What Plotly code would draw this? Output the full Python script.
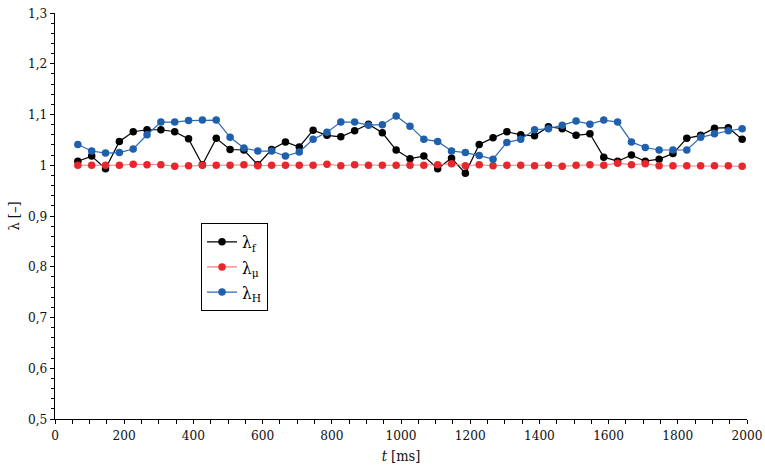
import plotly.graph_objects as go

# Time stamps of the samples [ms]
t_ms = [66 + 40 * k for k in range(49)]

# Relative coefficients lambda_f, lambda_mu, lambda_H
lambda_f = [1.008, 1.018, 0.993, 1.047, 1.066, 1.070, 1.070, 1.066, 1.052, 1.001,
            1.053, 1.031, 1.030, 1.001, 1.031, 1.046, 1.036, 1.069, 1.059, 1.056,
            1.068, 1.081, 1.064, 1.030, 1.013, 1.018, 0.993, 1.014, 0.984, 1.041,
            1.054, 1.066, 1.060, 1.058, 1.076, 1.072, 1.059, 1.062, 1.016, 1.008,
            1.020, 1.008, 1.012, 1.023, 1.053, 1.059, 1.073, 1.074, 1.051]

lambda_mu = [1.000, 1.000, 1.000, 1.000, 1.002, 1.001, 1.001, 0.998, 0.999, 1.000,
             1.000, 1.000, 1.001, 0.999, 1.000, 1.000, 1.000, 1.000, 1.002, 0.999,
             1.001, 1.000, 1.000, 1.000, 1.000, 1.000, 1.001, 1.003, 0.999, 1.001,
             0.999, 1.000, 1.000, 0.999, 1.000, 0.998, 1.000, 1.001, 1.000, 1.004,
             1.001, 1.003, 0.999, 0.999, 0.999, 0.999, 0.999, 0.999, 0.998]

lambda_H = [1.041, 1.028, 1.024, 1.025, 1.032, 1.060, 1.085, 1.085, 1.088, 1.089,
            1.089, 1.055, 1.034, 1.028, 1.028, 1.018, 1.026, 1.051, 1.065, 1.085,
            1.085, 1.079, 1.080, 1.097, 1.077, 1.051, 1.047, 1.028, 1.025, 1.019,
            1.012, 1.045, 1.051, 1.070, 1.072, 1.079, 1.087, 1.081, 1.089, 1.085,
            1.046, 1.035, 1.030, 1.030, 1.030, 1.055, 1.062, 1.068, 1.072]

y_tick_vals = [0.5, 0.6, 0.7, 0.8, 0.9, 1.0, 1.1, 1.2, 1.3]
y_tick_text = ["0,5", "0,6", "0,7", "0,8", "0,9", "1", "1,1", "1,2", "1,3"]
x_tick_vals = list(range(0, 2001, 200))

FONT = "DejaVu Serif Condensed, DejaVu Serif, serif"

series = [
    ("λ<sub>f</sub>", lambda_f, "#000000", "#000000"),
    ("λ<sub>μ</sub>", lambda_mu, "#f07f7f", "#e8262b"),
    ("λ<sub>H</sub>", lambda_H, "#2a6ab8", "#1f5fae"),
]

fig = go.Figure()
for name, vals, line_col, mark_col in series:
    fig.add_trace(go.Scatter(
        x=t_ms, y=vals, name=name, mode="lines+markers",
        line=dict(color=line_col, width=1.2),
        marker=dict(color=mark_col, size=7.5),
    ))

fig.update_layout(
    width=765, height=473,
    margin=dict(l=55, r=18, t=13, b=54),
    paper_bgcolor="white", plot_bgcolor="white",
    font=dict(family=FONT, size=13.5, color="#111111"),
    showlegend=True,
    legend=dict(
        x=0.211, y=0.482, xanchor="left", yanchor="top",
        bordercolor="#000000", borderwidth=1, bgcolor="white",
        font=dict(family=FONT, size=17, color="#000000"),
        itemwidth=30, tracegroupgap=0,
    ),
    xaxis=dict(
        range=[0, 2000], showgrid=False, zeroline=False, automargin=False,
        showline=True, linecolor="#000000", linewidth=1,
        tickmode="array", tickvals=x_tick_vals,
        ticks="outside", ticklen=4, tickcolor="#000000",
        minor=dict(dtick=50, ticks="outside", ticklen=4, tickcolor="#000000"),
        title=dict(text="<i>t</i> [ms]", font=dict(family=FONT, size=14.5), standoff=8),
    ),
    yaxis=dict(
        range=[0.5, 1.3], showgrid=False, zeroline=False, automargin=False,
        showline=True, linecolor="#000000", linewidth=1,
        tickmode="array", tickvals=y_tick_vals, ticktext=y_tick_text,
        ticks="outside", ticklen=4, tickcolor="#000000",
        minor=dict(dtick=0.02, ticks="outside", ticklen=3, tickcolor="#000000"),
        title=dict(text="λ [–]", font=dict(family=FONT, size=14.5), standoff=4),
    ),
)

fig.write_html("out.html")
